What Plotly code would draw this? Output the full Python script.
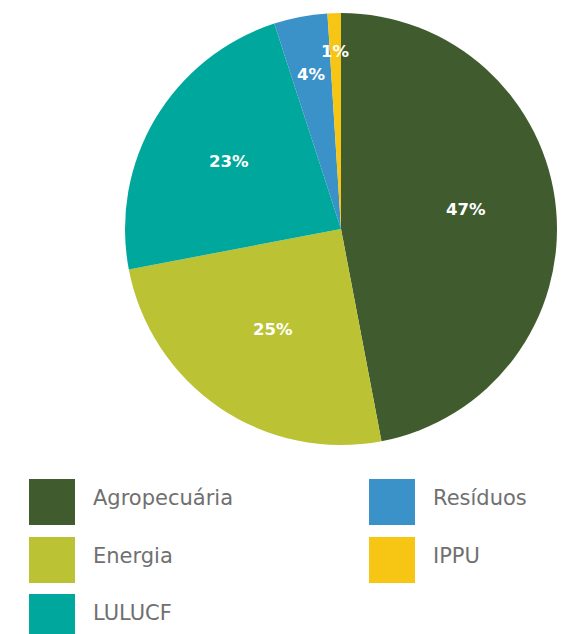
import math
import plotly.graph_objects as go

labels = ["Agropecuária", "Energia", "LULUCF", "Resíduos", "IPPU"]
values = [47, 25, 23, 4, 1]
colors = ["#405c2f", "#bbc334", "#00a79c", "#3a92c8", "#f7c513"]

# legend layout: column index and row index for each category
leg_col = [0, 0, 0, 1, 1]
leg_row = [0, 1, 2, 0, 1]
# radial position of each percentage label (fraction of radius) and small vertical nudge
label_rfrac = [0.58, 0.56, 0.60, 0.73, 0.82]
label_yshift = [8, 0, 2, 0, 0]

W, H = 570, 634

# pie placement in pixels
cx, cy, R = 333, 221, 216

fig = go.Figure()
fig.add_trace(go.Pie(
    labels=labels,
    values=values,
    sort=False,
    direction="clockwise",
    rotation=0,
    marker=dict(colors=colors, line=dict(width=0)),
    textinfo="none",
    hoverinfo="label+percent",
    showlegend=False,
    domain=dict(x=[(cx - R) / W, (cx + R) / W], y=[1 - (cy + R) / H, 1 - (cy - R) / H]),
))

# percentage labels at the middle angle of each slice
total = sum(values)
cum = 0
for v, rf, ys in zip(values, label_rfrac, label_yshift):
    mid = (cum + v / 2) / total * 2 * math.pi
    cum += v
    px = cx + rf * R * math.sin(mid)
    py = cy - rf * R * math.cos(mid)
    fig.add_annotation(xref="paper", yref="paper", x=px / W, y=1 - py / H,
                       yshift=ys,
                       text=f"<b>{v}%</b>", showarrow=False,
                       xanchor="center", yanchor="middle",
                       font=dict(family="DejaVu Sans", size=16.5, color="white"))

col_x = [21, 361]
row_y = [471, 529, 586]
sq = 46
text_dx = 62
for lab, col, c, r in zip(labels, colors, leg_col, leg_row):
    x0 = col_x[c]
    y0 = row_y[r]
    fig.add_shape(type="rect", xref="paper", yref="paper",
                  x0=x0 / W, x1=(x0 + sq) / W,
                  y0=1 - y0 / H, y1=1 - (y0 + sq) / H,
                  fillcolor=col, line=dict(width=0))
    fig.add_annotation(xref="paper", yref="paper",
                       x=(x0 + text_dx) / W, y=1 - (y0 + 19) / H,
                       text=lab, showarrow=False, xanchor="left", yanchor="middle",
                       font=dict(family="DejaVu Sans", size=21, color="#707070"))

fig.update_layout(
    width=W, height=H,
    margin=dict(l=0, r=0, t=0, b=0),
    paper_bgcolor="white", plot_bgcolor="white",
)

fig.write_html("out.html")
